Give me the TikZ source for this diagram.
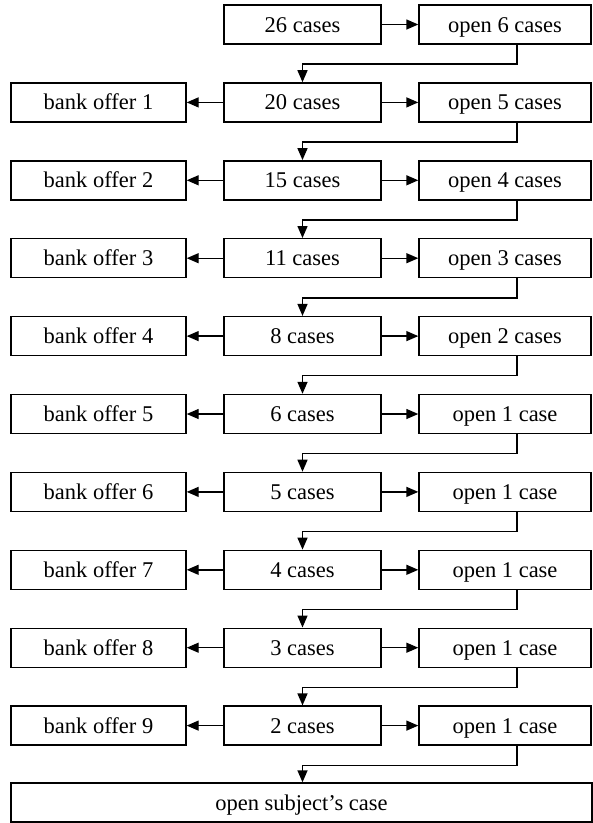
\documentclass[tikz,border=0pt]{standalone}
\usepackage{fontspec}
\setmainfont{Liberation Serif}
\usetikzlibrary{arrows.meta}

\begin{document}
\begin{tikzpicture}[x=1pt,y=-1pt,
  box/.style={draw,line width=1.4pt,minimum height=39pt,inner sep=0pt,
    text height=15pt,text depth=0pt,font=\fontsize{22.5}{26}\selectfont},
  casebox/.style={box,minimum width=157pt},
  offerbox/.style={box,minimum width=175pt},
  openbox/.style={box,minimum width=172pt},
  conn/.style={line width=1.4pt,-{Triangle[length=12pt,width=10pt]}}]
\useasboundingbox (0,0) rectangle (593,823);

% middle column and the boxes to the right
\foreach \i/\c/\o in {1/26 cases/open 6 cases,2/20 cases/open 5 cases,
    3/15 cases/open 4 cases,4/11 cases/open 3 cases,5/8 cases/open 2 cases,
    6/6 cases/open 1 case,7/5 cases/open 1 case,8/4 cases/open 1 case,
    9/3 cases/open 1 case,10/2 cases/open 1 case}
{
  \node[casebox] (m\i) at (302.5,{24.5+77.9*(\i-1)}) {\c};
  \node[openbox] (r\i) at (505,{24.5+77.9*(\i-1)}) {\o};
  \draw[conn] (m\i) -- (r\i);
}

% bank offers on the left
\foreach \i in {2,...,10}
{
  \pgfmathtruncatemacro{\k}{\i-1}
  \node[offerbox] (b\i) at (98.5,{24.5+77.9*(\i-1)}) {bank offer \k};
  \draw[conn] (m\i) -- (b\i);
}

\node[box,minimum width=581pt] (last) at (301.5,802.5) {open subject’s case};

% steps down to the next round
\foreach \i in {1,...,9}
{
  \pgfmathtruncatemacro{\j}{\i+1}
  \draw[conn] ([xshift=12pt]r\i.south) -- ++(0,-19.45pt) -| (m\j.north);
}
\draw[conn] ([xshift=12pt]r10.south) -- ++(0,-19.45pt) -| (last.north -| m10.north);

\end{tikzpicture}
\end{document}
